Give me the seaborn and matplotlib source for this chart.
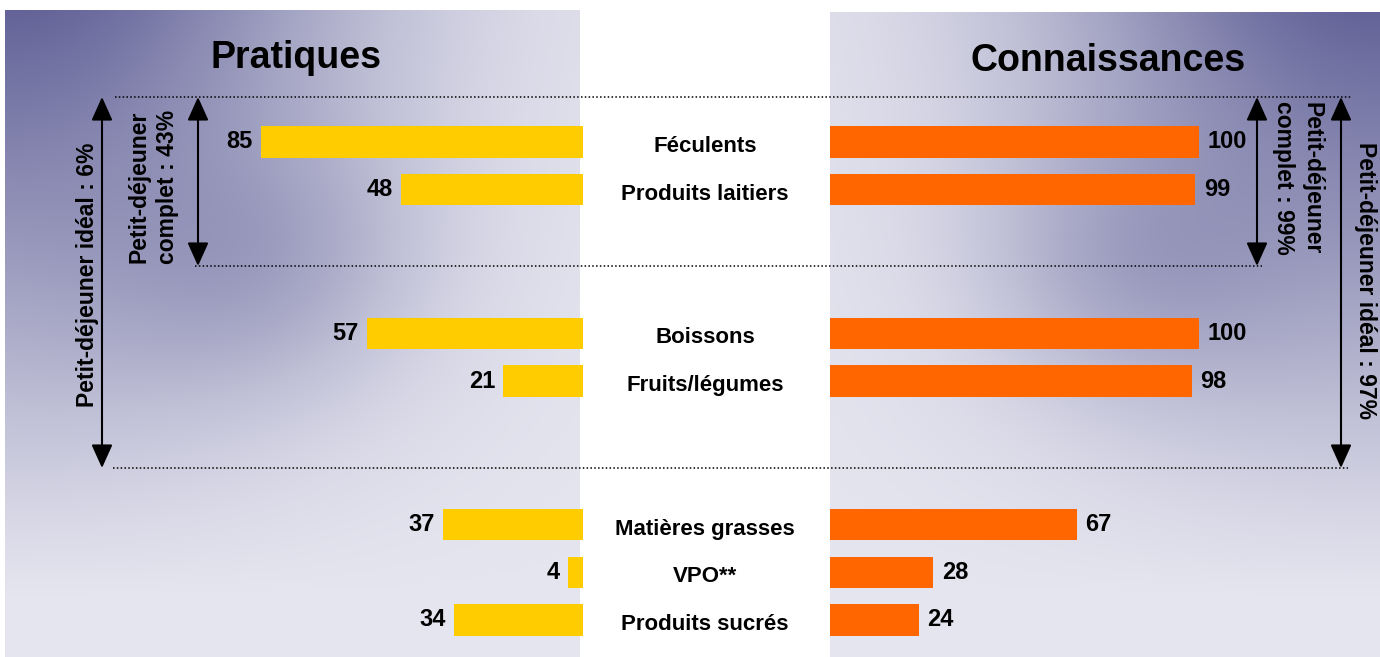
import numpy as np
import pandas as pd
import matplotlib
matplotlib.use("Agg")
import matplotlib.pyplot as plt
import seaborn as sns
from matplotlib import transforms

# ---------------- data ----------------
categories = ["Féculents", "Produits laitiers", "Boissons", "Fruits/légumes",
              "Matières grasses", "VPO**", "Produits sucrés"]
pratiques = [85, 48, 57, 21, 37, 4, 34]
connaissances = [100, 99, 100, 98, 67, 28, 24]
slot_order = ["Féculents", "Produits laitiers", "_g1", "_g2",
              "Boissons", "Fruits/légumes", "_g3", "_g4",
              "Matières grasses", "VPO**", "Produits sucrés"]
title_left = "Pratiques"
title_right = "Connaissances"
note_left_complet = "Petit-déjeuner\ncomplet : 43%"
note_left_ideal = "Petit-déjeuner idéal : 6%"
note_right_complet = "Petit-déjeuner\ncomplet : 99%"
note_right_ideal = "Petit-déjeuner idéal : 97%"

YELLOW = "#FFCC00"
ORANGE = "#FF6600"

sns.set_style("white")
plt.rcParams["font.family"] = ["Liberation Sans", "DejaVu Sans"]
plt.rcParams["font.weight"] = "bold"
plt.rcParams["text.color"] = "black"

W, H = 1380, 657
fig = plt.figure(figsize=(W / 100, H / 100), dpi=100)
fig.patch.set_facecolor("white")


def px(x0, y0, x1, y1):
    return [x0 / W, 1 - y1 / H, (x1 - x0) / W, (y1 - y0) / H]


def panel_img(w, h, mirror):
    u = np.linspace(0, 1, w)
    v = np.linspace(0, 1, h)
    U, V = np.meshgrid(u, v)
    w1 = np.exp(-(U / 0.6) ** 2) * np.clip(1 - V * 1.1, 0, 1) ** 1.1
    w2 = 0.38 * np.exp(-(((U - 0.42) / 0.28) ** 2 + ((V - 0.38) / 0.2) ** 2))
    wt = 1 - (1 - w1) * (1 - w2)
    dark = np.array([0.39, 0.39, 0.60])
    light = np.array([0.90, 0.90, 0.94])
    img = light + (dark - light) * wt[..., None]
    if mirror:
        img = img[:, ::-1]
    return img


bg = fig.add_axes([0, 0, 1, 1])
bg.imshow(panel_img(300, 300, False), extent=(5, 580, 657, 10), aspect="auto",
          interpolation="bilinear")
bg.imshow(panel_img(300, 300, True), extent=(830, 1380, 657, 12), aspect="auto",
          interpolation="bilinear")
bg.set_xlim(0, W)
bg.set_ylim(H, 0)
bg.axis("off")

df = pd.DataFrame({"cat": categories, "prat": pratiques, "conn": connaissances})

axL = fig.add_axes(px(5, 10, 583, 657))
axR = fig.add_axes(px(830, 10, 1380, 657))

sns.barplot(data=df, x="prat", y="cat", order=slot_order, color=YELLOW,
            saturation=1, width=0.65, linewidth=0, orient="h", ax=axL)
sns.barplot(data=df, x="conn", y="cat", order=slot_order, color=ORANGE,
            saturation=1, width=0.65, linewidth=0, orient="h", ax=axR)

pitch = 47.8
ytop = -(142 - 10) / pitch
ybot = 10 + (657 - 620) / pitch
for ax in (axL, axR):
    ax.set_ylim(ybot, ytop)
    ax.set_axis_off()
axL.set_xlim(578 / 3.79, 0)
axR.set_xlim(0, 550 / 3.69)

for ax in (axL, axR):
    for c in ax.containers:
        ax.bar_label(c, fmt="%d", padding=6, fontsize=17, fontweight="bold",
                     color="black")

# category labels in the middle
tr = transforms.blended_transform_factory(fig.transFigure, axL.transData)
for cat in categories:
    fig.text(705 / W, slot_order.index(cat) + 0.1, cat, transform=tr,
             ha="center", va="center", fontsize=16, fontweight="bold", color="black")

# titles
bg.text(296, 68, title_left, ha="center", va="baseline", fontsize=27, fontweight="bold")
bg.text(1108, 71, title_right, ha="center", va="baseline", fontsize=27, fontweight="bold")

# dotted guide lines
dot = dict(color="black", lw=1.1, linestyle=(0, (1, 1.5)))
bg.plot([115, 1352], [97, 97], **dot)
bg.plot([195, 1262], [266, 266], **dot)
bg.plot([113, 1348], [468, 468], **dot)

arrow = dict(arrowstyle="<|-|>,head_length=0.8,head_width=0.36", mutation_scale=18,
             color="black", lw=1.5, shrinkA=0, shrinkB=0)
bg.annotate("", xy=(102, 97), xytext=(102, 468), arrowprops=arrow)
bg.annotate("", xy=(198, 97), xytext=(198, 266), arrowprops=arrow)
bg.annotate("", xy=(1257, 97), xytext=(1257, 266), arrowprops=arrow)
bg.annotate("", xy=(1341, 97), xytext=(1341, 468), arrowprops=arrow)

bg.text(88, 275, note_left_ideal, rotation=90, ha="center", va="center",
        fontsize=16.5, fontweight="bold")
bg.text(153, 187, note_left_complet, rotation=90, ha="center", va="center",
        fontsize=16.5, fontweight="bold", multialignment="center", linespacing=1.3)
bg.text(1298, 178, note_right_complet, rotation=-90, ha="center", va="center",
        fontsize=16.5, fontweight="bold", multialignment="center", linespacing=1.3)
bg.text(1365, 281, note_right_ideal, rotation=-90, ha="center", va="center",
        fontsize=16.5, fontweight="bold")

fig.savefig("out.png", dpi=100, facecolor="white")
